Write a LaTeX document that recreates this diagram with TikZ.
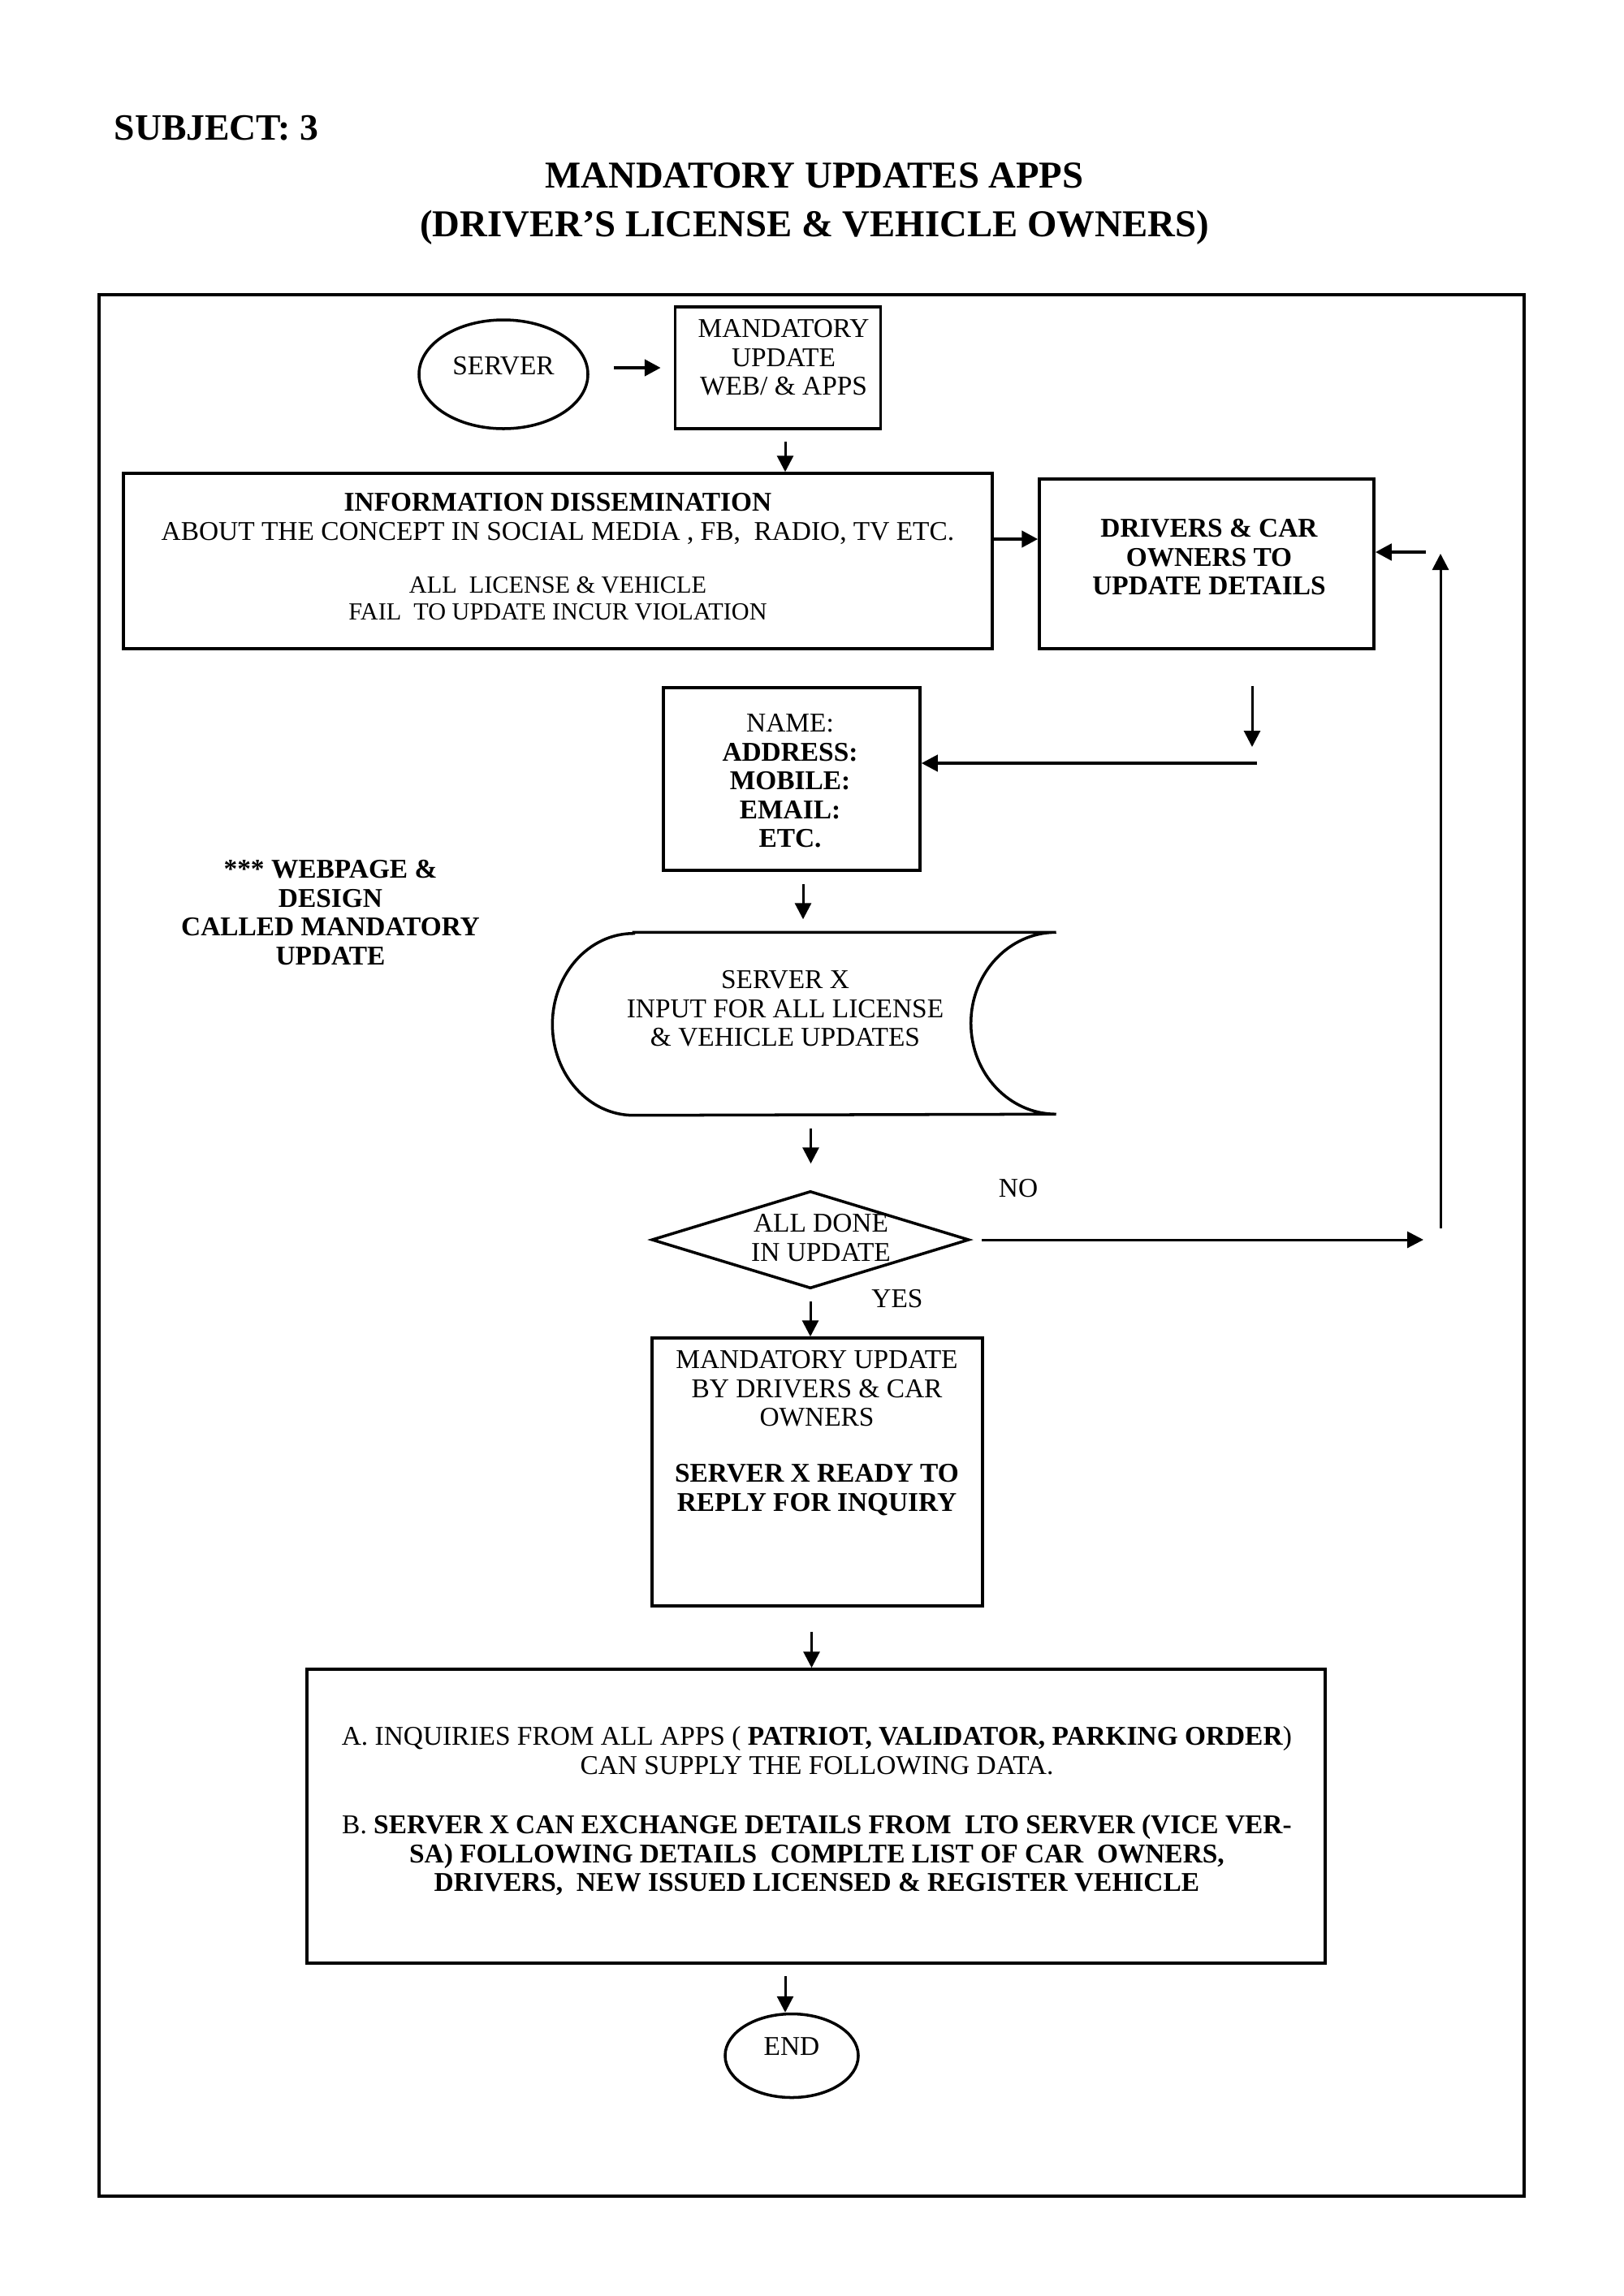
\documentclass[tikz,border=0pt]{standalone}
\usepackage{fontspec}
\setmainfont{Liberation Serif}
\usetikzlibrary{shapes.geometric,arrows.meta}

\begin{document}
\begin{tikzpicture}[
  box/.style={draw=black, line width=1pt},
  oval/.style={ellipse, draw=black, line width=1pt},
  txt/.style={align=center, font=\fontsize{9.5}{10.1}\selectfont},
  arr/.style={-{Triangle[length=0.2cm,width=0.2cm]}, line width=0.85pt},
  arrthick/.style={arr, line width=1.3pt}
]
\tikzstyle{every node}+=[inner sep=0pt]
\useasboundingbox (0,0) rectangle (20,-28.28);
% heading
\node[anchor=base west, font=\bfseries\fontsize{13}{17}\selectfont] (subject) at (1.40,-1.72) {SUBJECT: 3};
\node[anchor=north, align=center, font=\bfseries\fontsize{13.3}{17.1}\selectfont] (title) at (10.03,-2.00)
  {MANDATORY UPDATES APPS\\(DRIVER'S LICENSE \& VEHICLE OWNERS)};
% outer frame
\draw[line width=1.2pt] (1.22,-3.63) rectangle (18.77,-27.05);
% shapes
\node[oval, txt, minimum width=2.08cm, minimum height=1.34cm, text depth=0.22cm] (server) at (6.20,-4.61) {SERVER};
\node[box, minimum width=2.53cm, minimum height=1.50cm] (mand) at (9.58,-4.53) {};
\node[txt, anchor=north] (mandtxt) at (9.65,-3.93) {MANDATORY\\UPDATE\\WEB/ \& APPS};
\node[box, minimum width=10.70cm, minimum height=2.16cm] (info) at (6.87,-6.91) {};
\node[txt, anchor=north] (infotxt) at (6.87,-6.07)
  {\textbf{INFORMATION DISSEMINATION}\\ABOUT THE CONCEPT IN SOCIAL MEDIA , FB,\ \ RADIO, TV ETC.};
\node[align=center, anchor=north, font=\fontsize{8.6}{9.4}\selectfont] (infonote) at (6.87,-7.10)
  {ALL\ \ LICENSE \& VEHICLE\\FAIL\ \ TO UPDATE INCUR VIOLATION};
\node[box, minimum width=4.12cm, minimum height=2.09cm] (drivers) at (14.86,-6.945) {};
\node[txt, anchor=north, font=\bfseries\fontsize{9.5}{10.1}\selectfont] (drivtxt) at (14.89,-6.39)
  {DRIVERS \& CAR\\OWNERS TO\\UPDATE DETAILS};
\node[box, minimum width=3.16cm, minimum height=2.25cm] (nameb) at (9.75,-9.595) {};
\node[txt, anchor=north] (nametxt) at (9.73,-8.79)
  {NAME:\\\textbf{ADDRESS:}\\\textbf{MOBILE:}\\\textbf{EMAIL:}\\\textbf{ETC.}};
\node[txt, anchor=north, font=\bfseries\fontsize{9.5}{10.1}\selectfont] (webtxt) at (4.07,-10.59)
  {*** WEBPAGE \&\\DESIGN\\CALLED MANDATORY\\UPDATE};
% stored data shape of server x
\node[minimum width=6.19cm, minimum height=2.24cm] (srvx) at (9.905,-12.61) {};
\draw[line width=1pt] ([xshift=1cm]srvx.north west) -- (srvx.north east)
  arc[start angle=90, end angle=270, x radius=1.05cm, y radius=1.12cm]
  -- ([xshift=1cm]srvx.south west)
  arc[start angle=270, end angle=90, x radius=1cm, y radius=1.12cm] -- cycle;
\node[txt, anchor=north] (srvxtxt) at (9.67,-11.95) {SERVER X\\INPUT FOR ALL LICENSE\\\& VEHICLE UPDATES};
\node[diamond, draw=black, line width=1pt, minimum width=3.91cm, minimum height=1.20cm] (diam) at (9.98,-15.27) {};
\node[txt, anchor=north] (donetxt) at (10.11,-14.95) {ALL DONE\\IN UPDATE};
\node[txt, anchor=base] (no) at (12.54,-14.74) {NO};
\node[txt, anchor=base] (yes) at (11.05,-16.10) {YES};
\node[box, minimum width=4.07cm, minimum height=3.30cm] (ready) at (10.065,-18.13) {};
\node[txt, anchor=north] (readytxt) at (10.06,-16.63)
  {MANDATORY UPDATE\\BY DRIVERS \& CAR\\OWNERS\\[9.5pt]\textbf{SERVER X READY TO}\\\textbf{REPLY FOR INQUIRY}};
\node[box, minimum width=12.54cm, minimum height=3.62cm] (inq) at (10.05,-22.37) {};
\node[txt, anchor=north] (inqtxt) at (10.06,-21.26)
  {A. INQUIRIES FROM ALL APPS ( \textbf{PATRIOT, VALIDATOR, PARKING ORDER})\\CAN SUPPLY THE FOLLOWING DATA.\\[10.8pt]
   B. \textbf{SERVER X CAN EXCHANGE DETAILS FROM\ \ LTO SERVER (VICE VER-}\\
   \textbf{SA) FOLLOWING DETAILS\ \ COMPLTE LIST OF CAR\ \ OWNERS,}\\
   \textbf{DRIVERS,\ \ NEW ISSUED LICENSED \& REGISTER VEHICLE}};
\node[oval, txt, minimum width=1.64cm, minimum height=1.03cm, text depth=0.22cm] (end) at (9.75,-25.32) {END};
% connectors
\draw[arrthick, shorten <=0.30cm, shorten >=0.16cm] (server.east |- mand.west) -- (mand.west);
\draw[arr, shorten <=0.14cm] ([xshift=0.09cm]mand.south) -- ([xshift=0.09cm]mand.south |- info.north);
\draw[arrthick] ([yshift=0.27cm]info.east) -- ([yshift=0.27cm]info.east -| drivers.west);
\coordinate (downend) at (15.42,-9.20);
\draw[arr, shorten <=0.44cm] (downend |- drivers.south) -- (downend);
\coordinate (leftstart) at (15.48,-9.40);
\draw[arr, line width=1.1pt] (leftstart) -- (leftstart -| nameb.east);
\draw[arr, shorten <=0.15cm, shorten >=0.16cm] ([xshift=0.14cm]nameb.south) -- ([xshift=0.14cm]nameb.south |- srvx.north);
\draw[arr, shorten <=0.16cm, shorten >=0.32cm] ([xshift=0.08cm]srvx.south) -- ([xshift=0.08cm]srvx.south |- diam.north);
\draw[arr, shorten <=0.14cm] (diam.south) -- (diam.south |- ready.north);
\draw[arr, shorten <=0.30cm] ([xshift=-0.07cm]ready.south) -- ([xshift=-0.07cm]ready.south |- inq.north);
\draw[arr, shorten <=0.14cm] ([xshift=-0.08cm]end.north |- inq.south) -- ([xshift=-0.08cm]end.north);
% loop back when not done
\coordinate (noend) at (17.53,-15.27);
\draw[arr, shorten <=0.14cm] (diam.east) -- (noend);
\coordinate (upbot) at (17.74,-15.13);
\coordinate (uptop) at (17.74,-6.82);
\draw[arr] (upbot) -- (uptop);
\coordinate (backstart) at (17.56,-6.80);
\draw[arrthick] (backstart) -- (backstart -| drivers.east);
\end{tikzpicture}
\end{document}
